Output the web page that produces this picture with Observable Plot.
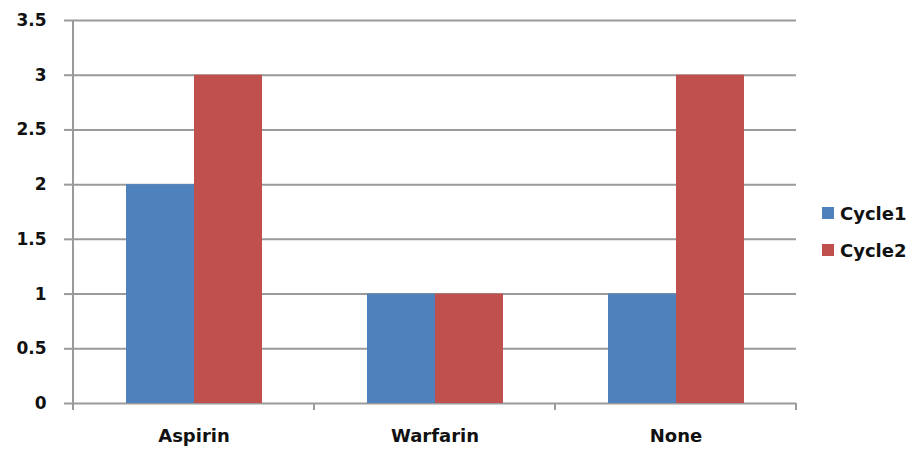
<!DOCTYPE html>
<html>
<head>
<meta charset="utf-8">
<script src="https://cdn.jsdelivr.net/npm/d3@7"></script>
<script src="https://cdn.jsdelivr.net/npm/@observablehq/plot@0.6"></script>
<style>
  body { margin: 0; background: #fff; }
  #wrap { position: relative; width: 917px; height: 450px; font-family: "DejaVu Sans", sans-serif; }
  #legend { position: absolute; left: 822px; top: 203px; font-weight: bold; font-size: 18px; color: #111; }
  .item { display: flex; align-items: center; height: 20px; margin-bottom: 17px; white-space: nowrap; }
  .sw { width: 12px; height: 12px; margin-right: 6px; }
</style>
</head>
<body>
<div id="wrap"><div id="chart"></div><div id="legend"></div></div>
<script>
const categories = ["Aspirin", "Warfarin", "None"];
const series = ["Cycle1", "Cycle2"];
const cycle1 = [2, 1, 1];
const cycle2 = [3, 1, 3];
const yTicks = [0, 0.5, 1, 1.5, 2, 2.5, 3, 3.5];
const yTickLabels = ["0", "0.5", "1", "1.5", "2", "2.5", "3", "3.5"];
const colors = ["#4F81BD", "#C0504D"];

const values = [cycle1, cycle2];
const data = categories.flatMap((cat, i) =>
  series.map((s, j) => ({cat, series: s, value: values[j][i]}))
);

const gridColor = "#9a9a9a";

const chart = Plot.plot({
  width: 917,
  height: 450,
  marginLeft: 72,
  marginRight: 120,
  marginTop: 20,
  marginBottom: 47,
  style: {fontFamily: "'DejaVu Sans', sans-serif", background: "#fff"},
  fx: {domain: categories, padding: 0},
  x: {domain: series, paddingInner: 0, paddingOuter: 0.75, axis: null},
  y: {domain: [0, 3.5], axis: null},
  color: {domain: series, range: colors},
  marks: [
    Plot.gridY(yTicks, {stroke: gridColor, strokeOpacity: 1, strokeWidth: 2}),
    Plot.axisY(yTicks, {
      anchor: "left",
      tickSize: 9,
      tickPadding: 18,
      stroke: gridColor,
      strokeWidth: 2,
      fontSize: 17,
      fontWeight: "bold",
      fill: "#111",
      label: null,
      tickFormat: d => yTickLabels[yTicks.indexOf(d)]
    }),
    Plot.barY(data, {fx: "cat", x: "series", y: "value", fill: "series"}),
    Plot.axisFx({
      anchor: "bottom",
      tickSize: 0,
      tickPadding: 26,
      fontSize: 18,
      fontWeight: "bold",
      fill: "#111",
      label: null
    })
  ]
});

document.getElementById("chart").appendChild(chart);

// axis line and category boundary ticks, positioned via Plot's own scales
const fx = chart.scale("fx");
const y = chart.scale("y");
const y0 = y.apply(0);
const yTop = y.apply(yTicks[yTicks.length - 1]);
const bounds = categories.map(c => fx.apply(c));
bounds.push(fx.apply(categories[categories.length - 1]) + fx.bandwidth);
const g = d3.select(chart).append("g").attr("stroke", gridColor).attr("stroke-width", 2);
g.append("line").attr("x1", bounds[0]).attr("x2", bounds[0]).attr("y1", yTop).attr("y2", y0 + 7);
bounds.slice(1).forEach(b => {
  g.append("line").attr("x1", b).attr("x2", b).attr("y1", y0).attr("y2", y0 + 7);
});

const legend = d3.select("#legend");
series.forEach((s, i) => {
  const item = legend.append("div").attr("class", "item");
  item.append("div").attr("class", "sw").style("background", colors[i]);
  item.append("span").text(s);
});
</script>
</body>
</html>
